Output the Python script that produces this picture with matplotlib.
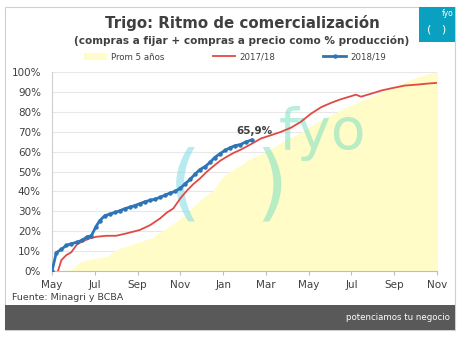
import matplotlib.pyplot as plt
from matplotlib.patches import Rectangle

# x = months since May 2018
prom_x = [0, 0.3, 0.67, 0.9, 1.3, 1.6, 2.08, 2.55, 2.86, 3.17, 3.64, 4.1, 4.73, 5.05, 5.36,
          5.67, 6.0, 6.3, 6.6, 6.92, 7.23, 7.55, 7.86, 8.17, 8.8, 9.26, 9.92, 10.7, 11.48,
          12.27, 13.05, 13.83, 14.6, 15.4, 16.17, 16.95, 17.58, 18.05]
prom_y = [0, 0, 0.5, 0.8, 4.7, 5.5, 6.4, 7.2, 9.7, 11.4, 13.0, 14.7, 16.9, 19.7, 21.4,
          23.9, 26.4, 28.9, 32.3, 35.6, 38.1, 40.6, 45.6, 49.0, 53.0, 56.5, 59.5, 64.5, 68.8,
          74.0, 78.5, 82.5, 86.3, 89.8, 93.5, 97.0, 99.0, 100.0]

r17_x = [0.28, 0.44, 0.67, 0.9, 1.17, 1.45, 1.77, 2.08, 2.55, 3.0, 3.48, 4.1, 4.58, 5.05,
         5.36, 5.67, 6.0, 6.3, 6.6, 6.92, 7.23, 7.55, 7.86, 8.17, 8.5, 8.83, 9.3, 9.77,
         10.23, 10.7, 11.17, 11.64, 12.1, 12.58, 13.05, 13.5, 14.0, 14.2, 14.45, 14.92,
         15.4, 15.86, 16.5, 17.1, 17.58, 18.05]
r17_y = [0, 5.5, 8.0, 9.4, 13.4, 15.0, 16.4, 17.2, 17.7, 17.7, 18.9, 20.6, 23.0, 26.4,
         29.3, 31.4, 36.5, 40.3, 43.6, 46.5, 49.8, 52.7, 55.4, 57.4, 59.4, 61.0, 63.7, 66.6,
         68.2, 69.9, 72.0, 75.0, 79.0, 82.3, 84.5, 86.3, 87.9, 88.6, 87.6, 89.1,
         90.7, 91.8, 93.2, 93.7, 94.2, 94.6]

r18_x = [0, 0.2, 0.44, 0.67, 0.9, 1.17, 1.42, 1.64, 1.84, 2.05, 2.23, 2.47, 2.7, 2.94, 3.17,
         3.4, 3.64, 3.87, 4.1, 4.34, 4.58, 4.8, 5.05, 5.28, 5.5, 5.75, 6.0, 6.2, 6.45, 6.69,
         6.92, 7.16, 7.4, 7.6, 7.86, 8.1, 8.33, 8.56, 8.8, 9.05, 9.34]
r18_y = [0, 9.2, 10.9, 12.9, 13.7, 14.5, 15.5, 17.2, 17.7, 22.2, 25.3, 27.8, 28.6, 29.4, 30.3,
         31.3, 32.1, 32.9, 33.8, 34.8, 35.5, 36.1, 37.0, 38.1, 39.1, 40.0, 41.6, 43.6, 46.0, 48.7,
         51.0, 52.5, 54.7, 57.0, 59.0, 60.7, 62.0, 63.0, 63.5, 64.8, 65.9]

month_ticks = [0, 2, 4, 6, 8, 10, 12, 14, 16, 18]
month_labels = ['May', 'Jul', 'Sep', 'Nov', 'Jan', 'Mar', 'May', 'Jul', 'Sep', 'Nov']

fig = plt.figure(figsize=(4.62, 3.37), dpi=100)

# frame, footer, logo
fig.patches.append(Rectangle((5 / 462, 1 - 330 / 337), 450 / 462, 323 / 337, transform=fig.transFigure,
                             facecolor='white', edgecolor='#d0d0d0', lw=0.8, zorder=-2))
fig.patches.append(Rectangle((5 / 462, 1 - 330 / 337), 450 / 462, 25 / 337, transform=fig.transFigure,
                             facecolor='#595959', edgecolor='none', zorder=-1))
fig.patches.append(Rectangle((419 / 462, 1 - 42 / 337), 36 / 462, 35 / 337, transform=fig.transFigure,
                             facecolor='#0aa0c0', edgecolor='none', zorder=-1))
fig.text(427 / 462, 1 - 29 / 337, '(   )', color='white', fontsize=8, va='center', ha='left')
fig.text(442 / 462, 1 - 14 / 337, 'fyo', color='white', fontsize=5.5, va='center', ha='left')
fig.text(450 / 462, 1 - 318 / 337, 'potenciamos tu negocio', color='white', fontsize=6.2,
         ha='right', va='center')

fig.text(242 / 462, 1 - 23 / 337, 'Trigo: Ritmo de comercialización', fontsize=10.8,
         fontweight='bold', color='#404040', ha='center', va='center')
fig.text(242 / 462, 1 - 41 / 337, '(compras a fijar + compras a precio como % producción)',
         fontsize=7.6, fontweight='bold', color='#404040', ha='center', va='center')
fig.text(12 / 462, 1 - 298 / 337, 'Fuente: Minagri y BCBA', fontsize=6.8, color='#404040',
         ha='left', va='center')

ax = fig.add_axes([52 / 462, 1 - 271 / 337, 385 / 462, 199 / 337])
ax.set_facecolor('none')
ax.set_zorder(2)

ax.fill_between(prom_x, 0, prom_y, color='#fffcc8', lw=0, label='Prom 5 años', zorder=1)
ax.plot(r17_x, r17_y, color='#e04a44', lw=1.3, label='2017/18', zorder=3)
ax.plot(r18_x, r18_y, color='#2e75b6', lw=2, marker='o', markersize=2.2, label='2018/19', zorder=4)

ax.annotate('65,9%', (r18_x[-1], r18_y[-1]), xytext=(2, 3), textcoords='offset points',
            fontsize=7.5, fontweight='bold', color='#404040', ha='center', va='bottom')

# watermark
ax.text(6.22, 42, '(', fontsize=60, color='#7fdbe6', alpha=0.55, ha='center', va='center', zorder=2)
ax.text(10.29, 42, ')', fontsize=60, color='#7fe0c4', alpha=0.55, ha='center', va='center', zorder=2)
ax.text(12.67, 69, 'fyo', fontsize=41, color='#7fe0c4', alpha=0.55, ha='center', va='center', zorder=2)

ax.set_xlim(0, 18)
ax.set_ylim(0, 100)
ax.set_xticks(month_ticks)
ax.set_xticklabels(month_labels)
ax.set_yticks(range(0, 101, 10))
ax.set_yticklabels([f'{v}%' for v in range(0, 101, 10)])
ax.tick_params(axis='both', labelsize=7.5, colors='#404040', length=3, color='#bfbfbf')
ax.tick_params(axis='y', length=0, pad=8)
ax.grid(axis='y', color='#e8e8e8', lw=0.8)
ax.set_axisbelow(True)
for s in ['top', 'right']:
    ax.spines[s].set_visible(False)
ax.spines['left'].set_color('#d0d0d0')
ax.spines['bottom'].set_color('#bfbfbf')

fig.legend(loc='center', bbox_to_anchor=(235 / 462, 1 - 57 / 337), ncol=3, frameon=False,
           fontsize=6.2, handlelength=2.6, columnspacing=5.6, labelcolor='#404040',
           handletextpad=0.5)

fig.savefig('out.png', dpi=100)
